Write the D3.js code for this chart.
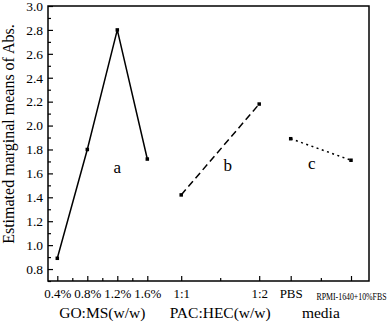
<!DOCTYPE html>
<html>
<head>
<meta charset="utf-8">
<script src="https://cdn.jsdelivr.net/npm/d3@7"></script>
<style>
  body { margin: 0; background: #fff; }
  svg { display: block; font-family: "Liberation Serif", "Times New Roman", serif; }
</style>
</head>
<body>
<svg id="chart"></svg>
<script>
// groups on the x axis
var goLabels = ['0.4%', '0.8%', '1.2%', '1.6%'];
var goValues = [0.89, 1.80, 2.80, 1.72];
var goPos = [0, 1, 2, 3];

var pacLabels = ['1:1', '1:2'];
var pacValues = [1.42, 2.18];
var pacPos = [4.13, 6.73];

var mediaLabels = ['PBS', 'RPMI-1640+10%FBS'];
var mediaValues = [1.89, 1.71];
var mediaPos = [7.78, 9.79];

var groupTitles = ['GO:MS(w/w)', 'PAC:HEC(w/w)', 'media'];
var yTicks = [0.8, 1.0, 1.2, 1.4, 1.6, 1.8, 2.0, 2.2, 2.4, 2.6, 2.8, 3.0];

var svgW = 392, svgH = 323;
var plotL = 48, plotR = 369, plotT = 6, plotB = 281;

var svg = d3.select('#chart').attr('width', svgW).attr('height', svgH);

var x = d3.scaleLinear().domain([-0.31, 10.39]).range([plotL, plotR]);
var y = d3.scaleLinear().domain([0.7, 3.0]).range([plotB, plotT]);

var groups = [
    {labels: goLabels, values: goValues, pos: goPos, dash: null, note: 'a', notePos: [2.0, 1.60]},
    {labels: pacLabels, values: pacValues, pos: pacPos, dash: '7,4', note: 'b', notePos: [5.68, 1.62]},
    {labels: mediaLabels, values: mediaValues, pos: mediaPos, dash: '2,3.5', note: 'c', notePos: [8.48, 1.64]}
];

var allPos = [], allLabels = [], minorPos = [];
groups.forEach(function(g){
    g.pos.forEach(function(p, i){
        allPos.push(p);
        allLabels.push(g.labels[i]);
        if(i > 0) minorPos.push((g.pos[i - 1] + p) / 2);
    });
});

// y axis (ticks pointing inward)
var yAxis = d3.axisLeft(y).tickValues(yTicks).tickSizeInner(-5).tickSizeOuter(0).tickPadding(5)
    .tickFormat(d3.format('.1f'));
var gy = svg.append('g').attr('transform', 'translate(' + plotL + ',0)').call(yAxis);
gy.select('.domain').remove();
gy.selectAll('text').attr('font-size', 13.5).attr('font-family', 'Liberation Serif').attr('fill', '#000');

var yMinor = d3.range(0.7, 3.0, 0.2).map(function(v){ return Math.round(v * 10) / 10; });
var gy2 = svg.append('g').attr('transform', 'translate(' + plotL + ',0)')
    .call(d3.axisLeft(y).tickValues(yMinor).tickSizeInner(-3).tickSizeOuter(0).tickFormat(''));
gy2.select('.domain').remove();

// x axis
var xAxis = d3.axisBottom(x).tickValues(allPos).tickSizeInner(-5).tickSizeOuter(0).tickPadding(8)
    .tickFormat(function(d, i){ return allLabels[i]; });
var gx = svg.append('g').attr('transform', 'translate(0,' + plotB + ')').call(xAxis);
gx.select('.domain').remove();
gx.selectAll('text').attr('font-size', 13).attr('font-family', 'Liberation Serif').attr('fill', '#000');
gx.selectAll('text').filter(function(d, i){ return allLabels[i] == 'RPMI-1640+10%FBS'; })
    .attr('font-size', 10)
    .attr('textLength', 70)
    .attr('lengthAdjust', 'spacingAndGlyphs')
    .attr('dy', '1.1em');

var gx2 = svg.append('g').attr('transform', 'translate(0,' + plotB + ')')
    .call(d3.axisBottom(x).tickValues(minorPos).tickSizeInner(-3).tickSizeOuter(0).tickFormat(''));
gx2.select('.domain').remove();

svg.selectAll('.tick line').attr('stroke', '#000').attr('stroke-width', 1.2);

// frame
svg.append('rect')
    .attr('x', plotL).attr('y', plotT)
    .attr('width', plotR - plotL).attr('height', plotB - plotT)
    .attr('fill', 'none').attr('stroke', '#000').attr('stroke-width', 1.5);

// series
var line = d3.line()
    .x(function(d){ return x(d.p); })
    .y(function(d){ return y(d.v); });

groups.forEach(function(g, gi){
    var pts = g.pos.map(function(p, i){ return {p: p, v: g.values[i]}; });
    svg.append('path')
        .datum(pts)
        .attr('d', line)
        .attr('fill', 'none')
        .attr('stroke', '#000')
        .attr('stroke-width', 1.5)
        .attr('stroke-dasharray', g.dash);

    svg.selectAll(null)
        .data(pts)
        .enter()
        .append('rect')
        .attr('x', function(d){ return x(d.p) - 1.75; })
        .attr('y', function(d){ return y(d.v) - 1.75; })
        .attr('width', 3.5).attr('height', 3.5)
        .attr('fill', '#000');

    svg.append('text')
        .attr('x', x(g.notePos[0]))
        .attr('y', y(g.notePos[1]))
        .attr('text-anchor', 'middle')
        .attr('font-size', 17)
        .text(g.note);

    // group title under the axis
    svg.append('text')
        .attr('x', (x(g.pos[0]) + x(g.pos[g.pos.length - 1])) / 2)
        .attr('y', 318)
        .attr('text-anchor', 'middle')
        .attr('font-size', 15.5)
        .text(groupTitles[gi]);
});

// y title
svg.append('text')
    .attr('transform', 'translate(14,134) rotate(-90)')
    .attr('text-anchor', 'middle')
    .attr('font-size', 16)
    .text('Estimated marginal means of Abs.');
</script>
</body>
</html>
